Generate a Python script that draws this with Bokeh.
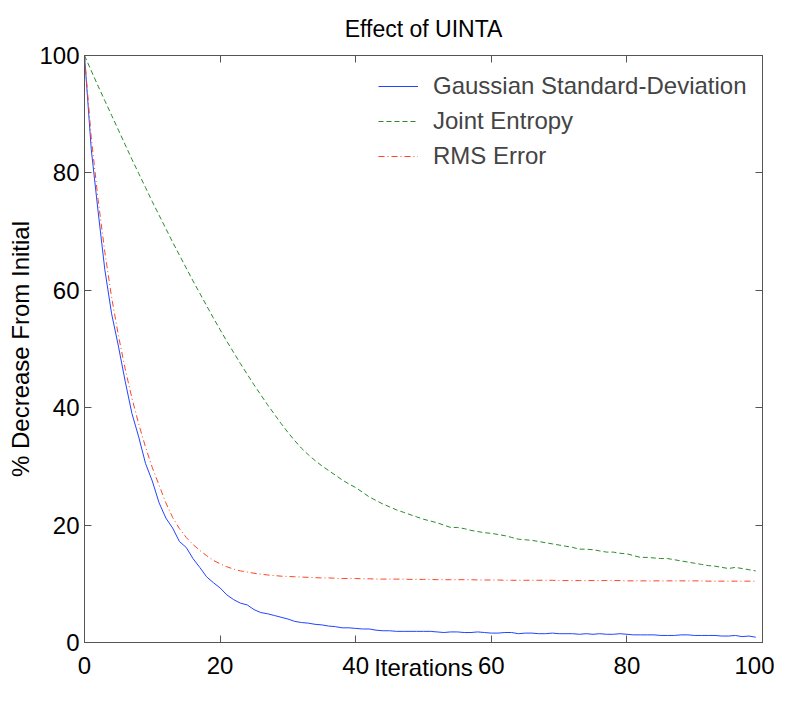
from bokeh.plotting import figure
from bokeh.models import LinearAxis, FixedTicker, Range1d, Legend, LegendItem
from bokeh.embed import file_html
from bokeh.resources import INLINE

title_text = "Effect of UINTA"
x_label = "Iterations"
y_label = "% Decrease From Initial"
series_names = ["Gaussian Standard-Deviation", "Joint Entropy", "RMS Error"]
tick_values = [0, 20, 40, 60, 80, 100]

gaussian_sd = [
    100, 84.0, 73.5, 63.5, 56.0, 50.5, 44.5, 39.0, 35.0, 30.5,
    27.5, 23.8, 21.2, 19.5, 17.2, 16.2, 14.3, 12.8, 11.2, 10.2,
    9.3, 8.1, 7.3, 6.7, 6.4, 5.6, 5.1, 4.9, 4.6, 4.3,
    4.0, 3.6, 3.4, 3.3, 3.1, 3.0, 2.8, 2.7, 2.5, 2.5,
    2.4, 2.3, 2.3, 2.1, 2.0, 2.0, 1.9, 1.9, 1.9, 1.9,
    1.9, 1.9, 1.8, 1.7, 1.8, 1.8, 1.7, 1.7, 1.8, 1.7,
    1.6, 1.6, 1.7, 1.7, 1.5, 1.6, 1.6, 1.5, 1.5, 1.6,
    1.5, 1.5, 1.5, 1.4, 1.5, 1.4, 1.5, 1.4, 1.4, 1.5,
    1.4, 1.3, 1.3, 1.3, 1.3, 1.2, 1.2, 1.2, 1.3, 1.3,
    1.2, 1.2, 1.2, 1.2, 1.1, 1.1, 1.2, 1.0, 1.1, 0.9,
]

joint_entropy = [
    100, 97.4, 94.8, 92.3, 89.8, 87.3, 84.8, 82.3, 79.9, 77.5,
    75.1, 72.8, 70.5, 68.2, 66.0, 63.8, 61.6, 59.5, 57.4, 55.3,
    53.3, 51.3, 49.4, 47.5, 45.7, 43.9, 42.2, 40.5, 38.9, 37.3,
    35.8, 34.4, 33.1, 32.0, 31.0, 30.1, 29.3, 28.5, 27.7, 27.0,
    26.4, 25.6, 24.8, 24.2, 23.6, 23.1, 22.6, 22.2, 21.8, 21.4,
    21.0, 20.7, 20.4, 20.0, 19.6, 19.6, 19.4, 19.1, 18.9, 18.7,
    18.6, 18.4, 18.2, 17.9, 17.6, 17.5, 17.4, 17.2, 17.0, 16.8,
    16.6, 16.4, 16.2, 15.9, 15.9, 15.8, 15.6, 15.4, 15.4, 15.2,
    15.1, 14.8, 14.5, 14.5, 14.4, 14.3, 14.3, 14.1, 13.9, 13.7,
    13.5, 13.3, 13.1, 13.0, 12.8, 12.6, 12.8, 12.6, 12.4, 12.2,
]

rms_error = [
    100, 86.0, 75.5, 66.5, 58.8, 52.3, 46.6, 41.6, 37.2, 33.3,
    29.8, 26.8, 23.8, 21.3, 19.4, 17.9, 16.7, 15.7, 14.8, 14.0,
    13.4, 12.9, 12.5, 12.2, 12.0, 11.8, 11.65, 11.5, 11.4, 11.3,
    11.25, 11.2, 11.15, 11.1, 11.05, 11.0, 11.0, 10.95, 10.9, 10.9,
    10.9, 10.85, 10.85, 10.8, 10.8, 10.8, 10.8, 10.8, 10.75, 10.75,
    10.75, 10.75, 10.7, 10.7, 10.7, 10.7, 10.7, 10.7, 10.65, 10.65,
    10.65, 10.65, 10.6, 10.6, 10.6, 10.6, 10.6, 10.6, 10.6, 10.6,
    10.55, 10.55, 10.55, 10.55, 10.55, 10.55, 10.55, 10.55, 10.55, 10.55,
    10.5, 10.5, 10.5, 10.5, 10.5, 10.5, 10.5, 10.5, 10.5, 10.5,
    10.5, 10.5, 10.45, 10.45, 10.45, 10.45, 10.45, 10.45, 10.45, 10.45,
]

iterations = list(range(len(gaussian_sd)))

FONT = "Liberation Sans"
AXIS_COLOR = "#555555"

p = figure(
    width=774, height=693,
    output_backend="svg", toolbar_location=None,
    x_range=Range1d(0, 100), y_range=Range1d(0, 100),
    min_border_left=84, min_border_right=12,
    min_border_top=55, min_border_bottom=51,
)
p.title.text = title_text
p.title.align = "center"
p.title.text_font = FONT
p.title.text_font_size = "23px"
p.title.text_font_style = "normal"
p.title.text_color = "black"
p.title.standoff = 27

p.grid.visible = False
p.outline_line_color = AXIS_COLOR
p.background_fill_color = "white"
p.border_fill_color = "white"

for ax in (p.xaxis[0], p.yaxis[0]):
    ax.ticker = FixedTicker(ticks=tick_values)
    ax.major_tick_in = 7
    ax.major_tick_out = 0
    ax.minor_tick_in = 0
    ax.minor_tick_out = 0
    ax.axis_line_color = AXIS_COLOR
    ax.major_tick_line_color = AXIS_COLOR
    ax.major_label_text_font = FONT
    ax.major_label_text_font_size = "24px"
    ax.major_label_text_color = "black"
    ax.axis_label_text_font = FONT
    ax.axis_label_text_font_size = "24px"
    ax.axis_label_text_font_style = "normal"
    ax.axis_label_text_color = "black"

p.xaxis[0].axis_label = x_label
p.xaxis[0].major_label_standoff = 14
p.xaxis[0].axis_label_standoff = -23
p.yaxis[0].axis_label = y_label
p.yaxis[0].major_label_standoff = 5
p.yaxis[0].axis_label_standoff = 2

for side in ("above", "right"):
    ax = LinearAxis(
        ticker=FixedTicker(ticks=tick_values),
        major_tick_in=7, major_tick_out=0,
        minor_tick_in=0, minor_tick_out=0,
        axis_line_color=AXIS_COLOR, major_tick_line_color=AXIS_COLOR,
        major_label_overrides={v: "" for v in tick_values},
        major_label_text_font_size="10px", major_label_standoff=0,
    )
    p.add_layout(ax, side)

r_blue = p.line(iterations, gaussian_sd, line_color="#2244ff", line_width=1)
r_green = p.line(iterations, joint_entropy, line_color="#2a8a2a", line_width=1,
                 line_dash="5 3")
r_red = p.line(iterations, rms_error, line_color="#ff4422", line_width=1,
               line_dash="6 3 1 3")

legend = Legend(
    items=[
        LegendItem(label=series_names[0], renderers=[r_blue]),
        LegendItem(label=series_names[1], renderers=[r_green]),
        LegendItem(label=series_names[2], renderers=[r_red]),
    ],
    location=(294, 472),
    padding=0, margin=0, spacing=7,
    glyph_width=40, glyph_height=28, label_height=28, label_standoff=15,
    label_text_font=FONT, label_text_font_size="24px",
    border_line_alpha=0, background_fill_alpha=0,
)
p.add_layout(legend, "center")

open("out.html", "w").write(file_html(p, INLINE))
